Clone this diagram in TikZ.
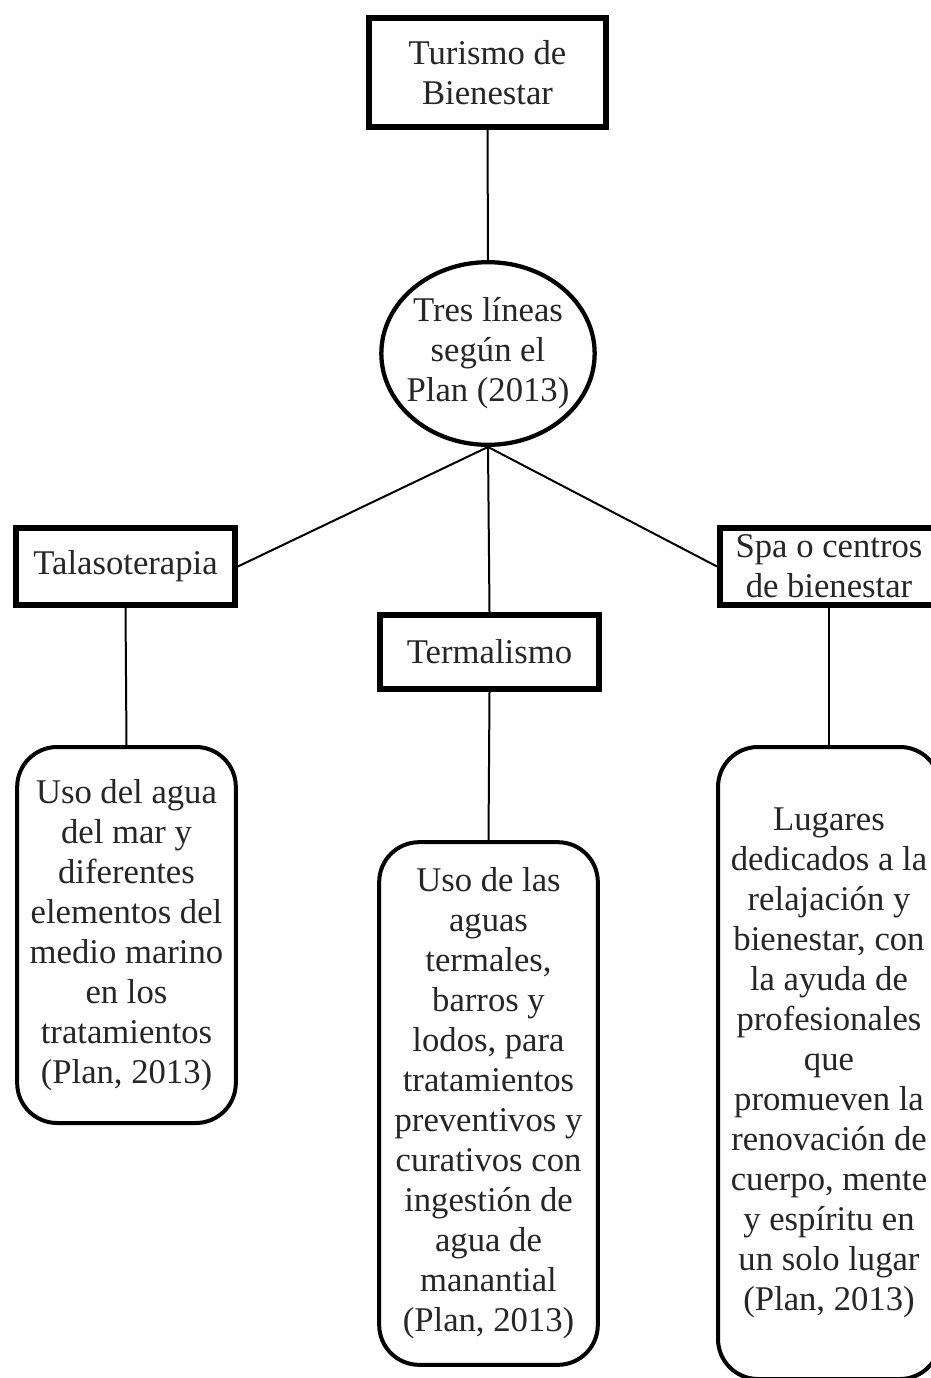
\documentclass[tikz,border=0pt]{standalone}
\usepackage{fontspec}
\setmainfont{Liberation Serif}
\usetikzlibrary{shapes.geometric}

\begin{document}
\begin{tikzpicture}[x=0.75pt, y=-0.75pt, every node/.style={font=\fontsize{26}{30}\selectfont, text=black!85}]
    \tikzstyle{head}=[rectangle, draw, line width=4.5pt, minimum width=177.75pt, minimum height=81.75pt, align=center, inner sep=0pt]
    \tikzstyle{hub}=[ellipse, draw, line width=3.2pt, minimum width=160pt, minimum height=137pt, inner sep=0pt]
    \tikzstyle{cat}=[rectangle, draw, line width=4.5pt, minimum width=164pt, minimum height=58pt, align=center, inner sep=0pt]
    \tikzstyle{desc}=[rectangle, draw, line width=3pt, rounded corners=30pt, minimum width=164pt, align=center, inner sep=0pt]
    \tikzstyle{link}=[line width=1.5pt]

    \useasboundingbox[fill=white] (0,0) rectangle (931,1378);
    \clip (0,0) rectangle (931,1378);

    \node[head] (turismo) at (487.5, 72.5) {Turismo de\\Bienestar};
    \node[hub] (lineas) at (488, 353.5) {};
    \node[align=center, inner sep=0pt] (lineastxt) at (lineas.center) {Tres líneas\\según el\\Plan (2013)};

    \node[cat] (talaso) at (125.5, 566.5) {Talasoterapia};
    \node[cat, minimum height=55.5pt] (termal) at (489.5, 652) {Termalismo};
    \node[cat, minimum width=163.5pt] (spa) at (829, 566.5) {Spa o centros\\de bienestar};

    \node[desc, minimum height=282pt] (talasodesc) at (126.5, 935) {Uso del agua\\del mar y\\diferentes\\elementos del\\medio marino\\en los\\tratamientos\\(Plan, 2013)};
    \node[desc, minimum height=392pt] (termaldesc) at (488.5, 1103.5) {Uso de las\\aguas\\termales,\\barros y\\lodos, para\\tratamientos\\preventivos y\\curativos con\\ingestión de\\agua de\\manantial\\(Plan, 2013)};
    \node[desc, minimum width=166.5pt, minimum height=474pt] (spadesc) at (829, 1063) {Lugares\\dedicados a la\\relajación y\\bienestar, con\\la ayuda de\\profesionales\\que\\promueven la\\renovación de\\cuerpo, mente\\y espíritu en\\un solo lugar\\(Plan, 2013)};

    \draw[link] (turismo.south) -- (lineas.north);
    \draw[link] (lineas.south) -- (talaso.east);
    \draw[link] (lineas.south) -- (termal.north);
    \draw[link] (lineas.south) -- (spa.west);
    \draw[link] (talaso.south) -- (talasodesc.north);
    \draw[link] (termal.south) -- (termaldesc.north);
    \draw[link] (spa.south) -- (spadesc.north);
\end{tikzpicture}
\end{document}
